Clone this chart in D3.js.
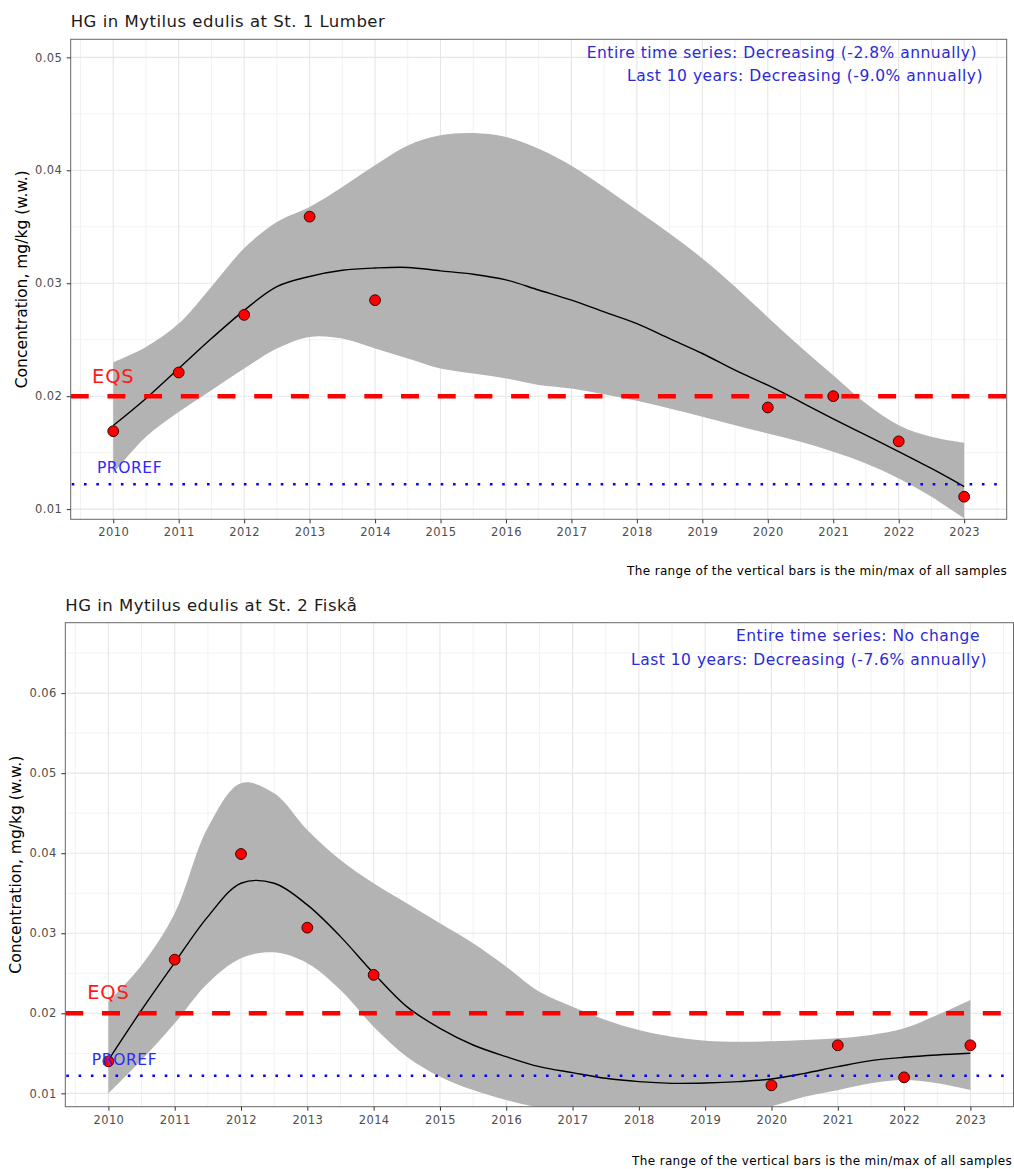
<!DOCTYPE html>
<html>
<head>
<meta charset="utf-8">
<script src="https://cdn.jsdelivr.net/npm/d3@7"></script>
<style>
  body { margin: 0; background: #fff; }
  svg { display: block; font-family: 'DejaVu Sans', sans-serif; }
</style>
</head>
<body>
<svg id="chart" width="1014" height="1169"></svg>
<script>
// observed yearly medians
const years = [2010, 2011, 2012, 2013, 2014, 2020, 2021, 2022, 2023];
const lumberValues = [0.0169, 0.0221, 0.0272, 0.0359, 0.0285, 0.0190, 0.0200, 0.0160, 0.0111];
const fiskaValues = [0.0140, 0.0267, 0.0399, 0.0307, 0.0248, 0.0110, 0.0160, 0.0120, 0.0160];

// smoother (fit + confidence band), every half year
const smoothYears = [2010, 2010.5, 2011, 2011.5, 2012, 2012.5, 2013, 2013.5, 2014, 2014.5, 2015, 2015.5, 2016,
  2016.5, 2017, 2017.5, 2018, 2018.5, 2019, 2019.5, 2020, 2020.5, 2021, 2021.5, 2022, 2022.5, 2023];

const lumberFit = [0.0174, 0.0198, 0.02245, 0.0251, 0.0276, 0.0297, 0.0306, 0.03115, 0.03135, 0.0314, 0.0311, 0.0308, 0.0303,
  0.0294, 0.0285, 0.02746, 0.02643, 0.0251, 0.02378, 0.0223, 0.02097, 0.0195, 0.0180, 0.01655, 0.0151, 0.0136, 0.0120];
const lumberUpper = [0.0230, 0.02436, 0.02643, 0.0297, 0.0331, 0.03543, 0.03675, 0.03852, 0.04044, 0.0422, 0.0431, 0.0433, 0.04295,
  0.0419, 0.0404, 0.0385, 0.03646, 0.0344, 0.0322, 0.0297, 0.0270, 0.02436, 0.02186, 0.01935, 0.01743, 0.0164, 0.01587];
const lumberLower = [0.01316, 0.0164, 0.0186, 0.02053, 0.02245, 0.02422, 0.02525, 0.0251, 0.02422, 0.02334, 0.02245, 0.0220, 0.02157,
  0.0210, 0.02068, 0.02018, 0.0196, 0.0189, 0.01817, 0.01743, 0.0167, 0.01596, 0.01507, 0.01404, 0.01272, 0.01109, 0.00918];

const fiskaFit = [0.01416, 0.02041, 0.02633, 0.03208, 0.03625, 0.03625, 0.03354, 0.02958, 0.0250, 0.02083, 0.01812, 0.01604, 0.01458,
  0.01333, 0.01258, 0.01188, 0.01146, 0.01125, 0.01129, 0.01146, 0.01179, 0.0125, 0.01333, 0.01408, 0.0145, 0.01479, 0.0150];
const fiskaUpper = [0.02146, 0.0260, 0.0325, 0.0432, 0.04875, 0.0475, 0.0429, 0.03916, 0.03625, 0.03375, 0.03125, 0.02875, 0.02583,
  0.0227, 0.02083, 0.01916, 0.01791, 0.01708, 0.01658, 0.01645, 0.0165, 0.01666, 0.01688, 0.01729, 0.01812, 0.01979, 0.02166];
const fiskaLower = [0.0100, 0.01416, 0.01875, 0.02375, 0.02687, 0.02762, 0.02625, 0.02291, 0.01833, 0.01458, 0.01208, 0.01041, 0.00916,
  0.0082, 0.0074, 0.0069, 0.0067, 0.0068, 0.0071, 0.0076, 0.0084, 0.00958, 0.0104, 0.01125, 0.01166, 0.01125, 0.0104];

// reference levels
const eqs = 0.02;
const proref = 0.0122;

const xTicks = [2010, 2011, 2012, 2013, 2014, 2015, 2016, 2017, 2018, 2019, 2020, 2021, 2022, 2023];
const lumberYTicks = [0.01, 0.02, 0.03, 0.04, 0.05];
const fiskaYTicks = [0.01, 0.02, 0.03, 0.04, 0.05, 0.06];

const lumberTrend = ['Entire time series: Decreasing (-2.8% annually)', 'Last 10 years: Decreasing (-9.0% annually)'];
const fiskaTrend = ['Entire time series: No change', 'Last 10 years: Decreasing (-7.6% annually)'];

const caption = 'The range of the vertical bars is the min/max of all samples';
const yTitle = 'Concentration, mg/kg (w.w.)';

const svg = d3.select('#chart');

const drawPanel = cfg => {
  const x = d3.scaleLinear().domain([2009.35, 2023.65]).range([cfg.left, cfg.right]);
  const y = d3.scaleLinear().domain(cfg.yDomain).range([cfg.bottom, cfg.top]);
  const g = svg.append('g');

  const clipId = 'clip-' + cfg.id;
  g.append('clipPath').attr('id', clipId)
    .append('rect')
      .attr('x', cfg.left).attr('y', cfg.top)
      .attr('width', cfg.right - cfg.left).attr('height', cfg.bottom - cfg.top);

  // minor grid
  const minorX = d3.range(2009.5, 2024, 1);
  const minorY = cfg.yTicks.map(v => v + 0.005).concat([cfg.yTicks[0] - 0.005])
    .filter(v => v > cfg.yDomain[0] && v < cfg.yDomain[1]);
  g.append('g').attr('stroke', '#f2f2f2').attr('stroke-width', 1)
    .selectAll('line').data(minorX).join('line')
      .attr('x1', d => x(d)).attr('x2', d => x(d))
      .attr('y1', cfg.top).attr('y2', cfg.bottom);
  g.append('g').attr('stroke', '#f2f2f2').attr('stroke-width', 1)
    .selectAll('line').data(minorY).join('line')
      .attr('x1', cfg.left).attr('x2', cfg.right)
      .attr('y1', d => y(d)).attr('y2', d => y(d));

  // major grid
  g.append('g').attr('stroke', '#e6e6e6').attr('stroke-width', 1.1)
    .selectAll('line').data(xTicks).join('line')
      .attr('x1', d => x(d)).attr('x2', d => x(d))
      .attr('y1', cfg.top).attr('y2', cfg.bottom);
  g.append('g').attr('stroke', '#e6e6e6').attr('stroke-width', 1.1)
    .selectAll('line').data(cfg.yTicks).join('line')
      .attr('x1', cfg.left).attr('x2', cfg.right)
      .attr('y1', d => y(d)).attr('y2', d => y(d));

  const plot = g.append('g').attr('clip-path', `url(#${clipId})`);

  const band = smoothYears.map((yr, i) => ({ yr, lo: cfg.lower[i], hi: cfg.upper[i] }));
  plot.append('path')
    .datum(band)
    .attr('fill', '#b3b3b3')
    .attr('d', d3.area().curve(d3.curveCatmullRom)
      .x(d => x(d.yr)).y0(d => y(d.lo)).y1(d => y(d.hi)));

  const fit = smoothYears.map((yr, i) => ({ yr, v: cfg.fit[i] }));
  plot.append('path')
    .datum(fit)
    .attr('fill', 'none')
    .attr('stroke', '#000')
    .attr('stroke-width', 1.4)
    .attr('d', d3.line().curve(d3.curveCatmullRom).x(d => x(d.yr)).y(d => y(d.v)));

  // EQS and PROREF
  plot.append('line')
    .attr('x1', cfg.left).attr('x2', cfg.right)
    .attr('y1', y(eqs)).attr('y2', y(eqs))
    .attr('stroke', '#ff0000').attr('stroke-width', 4.5)
    .attr('stroke-dasharray', '18 18.7');
  plot.append('line')
    .attr('x1', cfg.left + 1).attr('x2', cfg.right)
    .attr('y1', y(proref)).attr('y2', y(proref))
    .attr('stroke', '#0000ff').attr('stroke-width', 2.6)
    .attr('stroke-dasharray', '2.6 9.7');

  // points
  plot.append('g')
    .selectAll('circle')
    .data(years.map((yr, i) => ({ yr, v: cfg.values[i] })))
    .join('circle')
      .attr('cx', d => x(d.yr))
      .attr('cy', d => y(d.v))
      .attr('r', 5.4)
      .attr('fill', '#ff0000')
      .attr('stroke', '#3a0000')
      .attr('stroke-width', 1);

  // labels for reference levels
  g.append('text')
    .attr('x', x(2010)).attr('y', y(eqs) - cfg.eqsDy)
    .attr('text-anchor', 'middle')
    .attr('font-size', 19.5).attr('letter-spacing', 0.8).attr('fill', '#ff1a1a')
    .text('EQS');
  g.append('text')
    .attr('x', x(2009.75)).attr('y', y(proref) - 11.2)
    .attr('font-size', 15.5).attr('letter-spacing', 0.6).attr('fill', '#2b2bff')
    .text('PROREF');

  // panel border
  g.append('rect')
    .attr('x', cfg.left).attr('y', cfg.top)
    .attr('width', cfg.right - cfg.left).attr('height', cfg.bottom - cfg.top)
    .attr('fill', 'none').attr('stroke', '#666').attr('stroke-width', 1);

  // axes
  const yAxis = g.append('g')
    .attr('transform', `translate(${cfg.left},0)`)
    .call(d3.axisLeft(y).tickValues(cfg.yTicks).tickSize(4).tickPadding(4.5).tickFormat(d3.format('.2f')));
  const xAxis = g.append('g')
    .attr('transform', `translate(0,${cfg.bottom})`)
    .call(d3.axisBottom(x).tickValues(xTicks).tickSize(4).tickPadding(5).tickFormat(d3.format('d')));
  [xAxis, yAxis].forEach(a => {
    a.select('.domain').remove();
    a.selectAll('line').attr('stroke', '#333');
    a.selectAll('text').attr('fill', '#4d4d4d').attr('font-size', 11.5).attr('letter-spacing', 0.4)
      .attr('font-family', "'DejaVu Sans', sans-serif");
  });

  // titles and notes
  g.append('text')
    .attr('x', cfg.left).attr('y', cfg.top - 12)
    .attr('font-size', 16.5).attr('letter-spacing', 0.5).attr('fill', '#1a1a1a')
    .text(cfg.title);

  g.append('text')
    .attr('transform', `translate(${cfg.yTitleX},${(cfg.top + cfg.bottom) / 2}) rotate(-90)`)
    .attr('text-anchor', 'middle')
    .attr('font-size', 15.5).attr('fill', '#000')
    .text(yTitle);

  cfg.trend.forEach((t, i) => {
    g.append('text')
      .attr('x', cfg.trendX[i]).attr('y', cfg.top + 18.3 + i * 23.7)
      .attr('text-anchor', 'end')
      .attr('font-size', 15.5).attr('letter-spacing', 0.5).attr('fill', '#2a2ad6')
      .text(t);
  });

  g.append('text')
    .attr('x', cfg.captionX).attr('y', cfg.bottom + cfg.captionDy)
    .attr('text-anchor', 'end')
    .attr('font-size', 12).attr('letter-spacing', 0.35).attr('fill', '#000')
    .text(caption);
};

drawPanel({
  id: 'lumber',
  title: 'HG in Mytilus edulis at St. 1 Lumber',
  left: 70.7, right: 1006.7, top: 39.3, bottom: 519.3,
  yDomain: [0.0091, 0.0516],
  yTicks: lumberYTicks,
  values: lumberValues,
  fit: lumberFit, upper: lumberUpper, lower: lumberLower,
  trend: lumberTrend, trendX: [977, 983],
  yTitleX: 27, captionX: 1007, captionDy: 56, eqsDy: 13
});

drawPanel({
  id: 'fiska',
  title: 'HG in Mytilus edulis at St. 2 Fiskå',
  left: 65.3, right: 1013.5, top: 622.7, bottom: 1106.7,
  yDomain: [0.00833, 0.0688],
  yTicks: fiskaYTicks,
  values: fiskaValues,
  fit: fiskaFit, upper: fiskaUpper, lower: fiskaLower,
  trend: fiskaTrend, trendX: [980, 987],
  yTitleX: 21, captionX: 1012, captionDy: 58, eqsDy: 14
});
</script>
</body>
</html>
